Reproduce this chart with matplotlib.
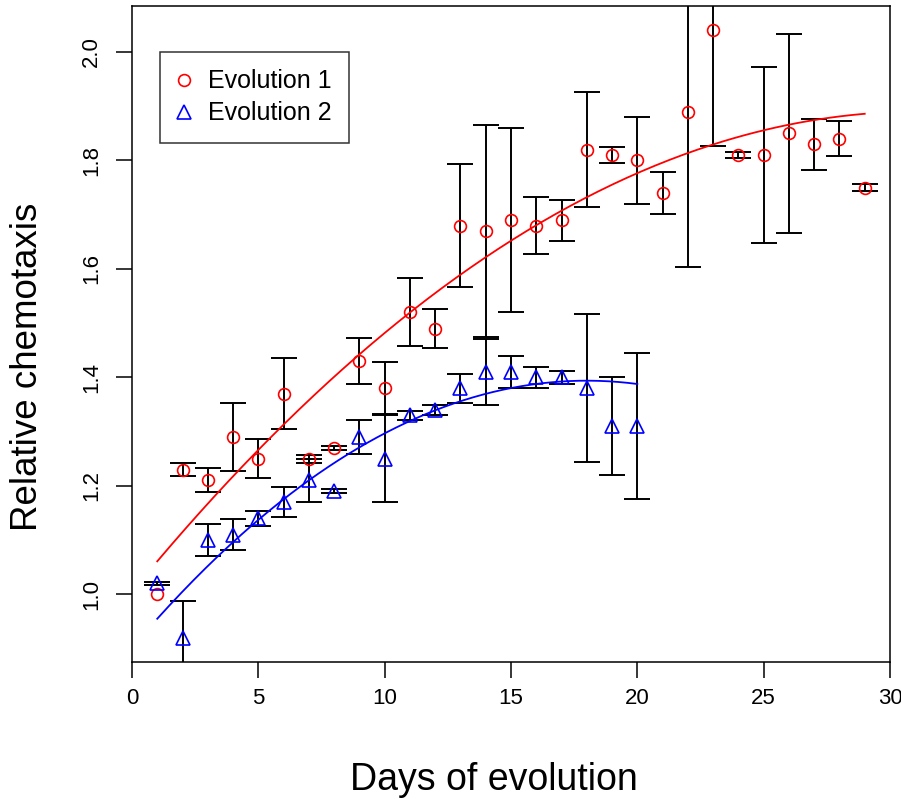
import numpy as np
import matplotlib
matplotlib.use("Agg")
import matplotlib.pyplot as plt

plt.rcParams['font.family'] = ['Liberation Sans', 'DejaVu Sans']

# Evolution 1: mean relative chemotaxis and standard error per day
days1 = np.arange(1, 30)
mean1 = [1.00, 1.23, 1.21, 1.29, 1.25, 1.37, 1.25, 1.27, 1.43, 1.38,
         1.52, 1.49, 1.68, 1.67, 1.69, 1.68, 1.69, 1.82, 1.81, 1.80,
         1.74, 1.89, 2.04, 1.81, 1.81, 1.85, 1.83, 1.84, 1.75]
se1 = [0.000, 0.012, 0.022, 0.062, 0.036, 0.066, 0.007, 0.004, 0.042, 0.048,
       0.063, 0.036, 0.113, 0.195, 0.170, 0.052, 0.038, 0.106, 0.014, 0.080,
       0.038, 0.286, 0.213, 0.006, 0.162, 0.183, 0.047, 0.032, 0.007]

# Evolution 2
days2 = np.arange(1, 21)
mean2 = [1.02, 0.92, 1.10, 1.11, 1.14, 1.17, 1.21, 1.19, 1.29, 1.25,
         1.33, 1.34, 1.38, 1.41, 1.41, 1.40, 1.40, 1.38, 1.31, 1.31]
se2 = [0.003, 0.067, 0.030, 0.028, 0.014, 0.028, 0.040, 0.004, 0.032, 0.080,
       0.008, 0.010, 0.027, 0.060, 0.030, 0.020, 0.012, 0.136, 0.090, 0.135]

# quadratic trend coefficients (intercept, linear, quadratic)
trend1 = [1.005, 0.0568, -0.000911]
trend2 = [0.9018, 0.0547, -0.00152]

labels = ["Evolution 1", "Evolution 2"]
xticks = [0, 5, 10, 15, 20, 25, 30]
yticks = [1.0, 1.2, 1.4, 1.6, 1.8, 2.0]

W, H = 901, 799
fig = plt.figure(figsize=(W / 100, H / 100), dpi=100)
ax = fig.add_axes([132 / W, 1 - 662 / H, (890 - 132) / W, (662 - 6) / H])

allv = np.concatenate([mean1, mean2])
lo, hi = allv.min(), allv.max()
pad = 0.04 * (hi - lo)
ax.set_xlim(0, 30)
ax.set_ylim(lo - pad, hi + pad)

ebkw = dict(fmt='none', ecolor='black', elinewidth=1.4, capsize=9.4, capthick=1.4, zorder=2)
m1 = np.array(mean1); s1 = np.array(se1)
m2 = np.array(mean2); s2 = np.array(se2)
ax.errorbar(days1[s1 > 0], m1[s1 > 0], yerr=s1[s1 > 0], **ebkw)
ax.errorbar(days2[s2 > 0], m2[s2 > 0], yerr=s2[s2 > 0], **ebkw)

xf1 = np.linspace(days1[0], days1[-1], 200)
xf2 = np.linspace(days2[0], days2[-1], 200)
ax.plot(xf1, np.polyval(trend1[::-1], xf1), color='#ff0000', lw=1.3, zorder=3)
ax.plot(xf2, np.polyval(trend2[::-1], xf2), color='#0000ff', lw=1.3, zorder=3)

ax.plot(days1, m1, 'o', ms=8.5, mfc='none', mec='#ff0000', mew=1.2, zorder=4, label=labels[0])
ax.plot(days2, m2, '^', ms=9.5, mfc='none', mec='#0000ff', mew=1.2, zorder=4, label=labels[1])

for sp in ax.spines.values():
    sp.set_linewidth(1.1)
ax.set_xticks(xticks)
ax.set_xticklabels([str(v) for v in xticks])
ax.set_yticks(yticks)
ax.set_yticklabels([f"{v:.1f}" for v in yticks])
ax.tick_params(axis='both', direction='out', length=11.5, width=1.1, labelsize=16, colors='black')
ax.tick_params(axis='x', pad=7)
ax.tick_params(axis='y', pad=10)
for lbl in ax.get_yticklabels():
    lbl.set_rotation(90)
    lbl.set_va('center')

fig.text(494 / W, 1 - 790 / H, "Days of evolution", ha='center', va='baseline', fontsize=27)
fig.text(28 / W, 1 - 367 / H, "Relative chemotaxis", ha='center', va='center', rotation=90, fontsize=26.5)

leg = ax.legend(loc='upper left', bbox_to_anchor=((160 - 132) / (890 - 132), 1 - (52 - 6) / (662 - 6)),
                frameon=True, fancybox=False, fontsize=18, handlelength=0.52, handletextpad=0.7,
                borderpad=0.7, labelspacing=0.32, borderaxespad=0)
leg.get_frame().set_edgecolor('black')
leg.get_frame().set_linewidth(1.1)

fig.savefig("out.png", dpi=100)
